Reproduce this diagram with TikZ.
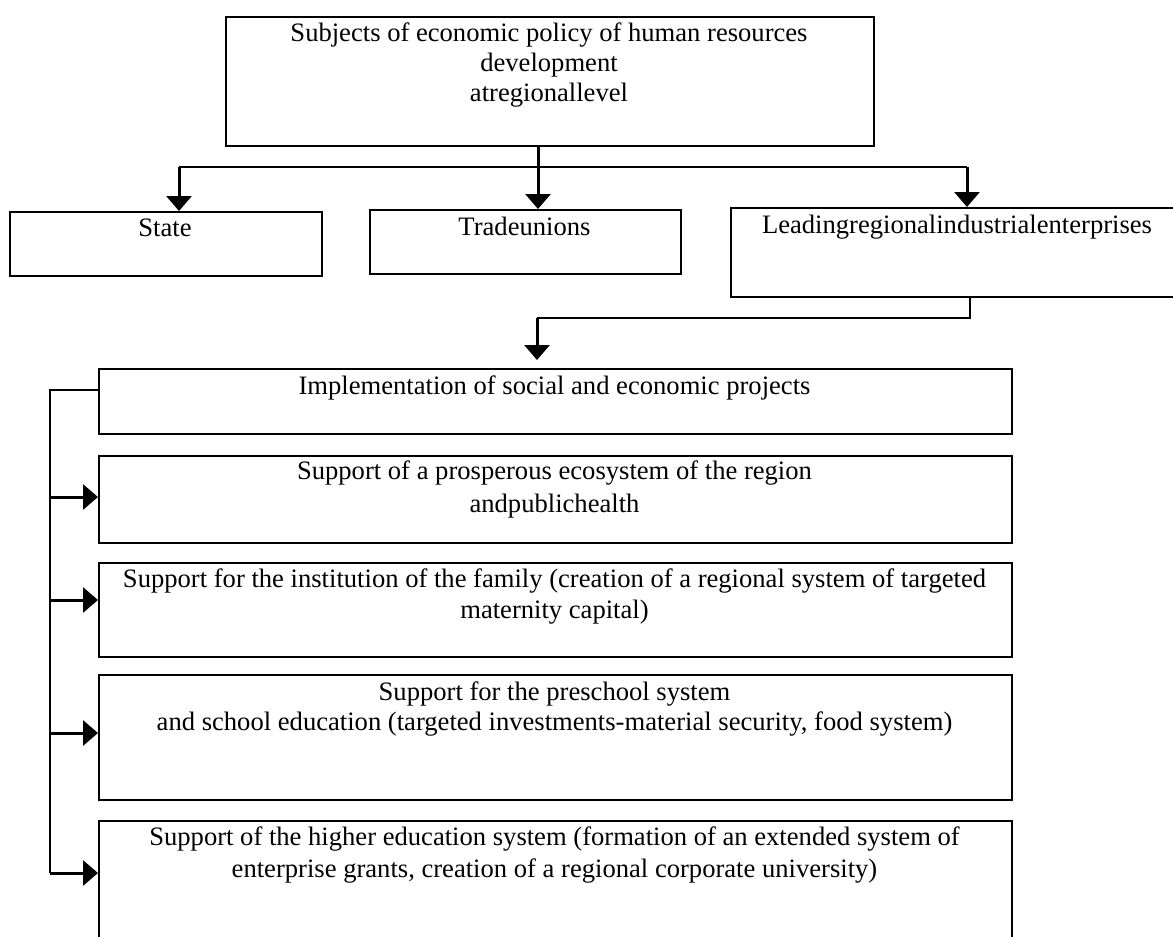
\documentclass[tikz,border=0pt]{standalone}
\usepackage{fontspec}
\setmainfont{Liberation Serif}
\usetikzlibrary{arrows.meta}
\begin{document}
\begin{tikzpicture}[x=0.5pt,y=-0.5pt,
  box/.style={draw, line width=0.8pt, inner sep=0pt, anchor=north west},
  txt/.style={anchor=north, inner sep=0pt, align=center, font=\fontsize{13.3pt}{15pt}\selectfont},
  stem/.style={line width=1.5pt},
  thinl/.style={line width=0.8pt},
  tip/.style={-{Triangle[length=7.5pt,width=12.5pt]}}
]
\clip (0,0) rectangle (1173,937);
% boxes
\node[box, minimum width=324pt, minimum height=64.5pt] (top) at (225,16) {};
\node[txt] (topT) at (549,20) {\strut Subjects of economic policy of human resources\\\strut development\\\strut atregionallevel};

\node[box, minimum width=156pt, minimum height=32pt] (state) at (9,211) {};
\node[txt] (stateT) at (165,215) {\strut State};

\node[box, minimum width=155.5pt, minimum height=32pt] (trade) at (369,209) {};
\node[txt] (tradeT) at (524.5,214) {\strut Tradeunions};

\node[box, minimum width=227pt, minimum height=44.5pt] (lead) at (730,207) {};
\node[txt] (leadT) at (957,212) {\strut Leadingregionalindustrialenterprises};

\node[box, minimum width=456.5pt, minimum height=32.5pt] (impl) at (98,368) {};
\node[txt] (implT) at (554.5,373) {\strut Implementation of social and economic projects};

\node[box, minimum width=456.5pt, minimum height=43.5pt] (s2) at (98,455) {};
\node[txt, font=\fontsize{13.3pt}{16.5pt}\selectfont] (s2T) at (554.5,456) {\strut Support of a prosperous ecosystem of the region\\\strut andpublichealth};

\node[box, minimum width=456.5pt, minimum height=47pt] (s3) at (98,562) {};
\node[txt, font=\fontsize{13.3pt}{15.5pt}\selectfont] (s3T) at (554.5,565) {\strut Support for the institution of the family (creation of a regional system of targeted\\\strut maternity capital)};

\node[box, minimum width=456.5pt, minimum height=62.5pt] (s4) at (98,674) {};
\node[txt] (s4T) at (554.5,679) {\strut Support for the preschool system\\\strut and school education (targeted investments-material security, food system)};

\node[box, minimum width=456.5pt, minimum height=75pt] (s5) at (98,820) {};
\node[txt, font=\fontsize{13.3pt}{16pt}\selectfont] (s5T) at (554.5,823) {\strut Support of the higher education system (formation of an extended system of\\\strut enterprise grants, creation of a regional corporate university)};

% top connectors
\coordinate (j1) at (538,167);
\coordinate (jS) at (179,167);
\coordinate (jL) at (967,167);
\draw[stem] (top.south -| j1) -- (j1);
\draw[thinl] (jS) -- (jL);
\draw[stem,tip] (jS) -- (jS |- state.north);
\draw[stem,tip] (j1) -- (j1 |- trade.north);
\draw[stem,tip] (jL) -- (jL |- lead.north);

% leading to implementation
\coordinate (k1) at (970,318);
\coordinate (k2) at (537,318);
\draw[thinl] (lead.south -| k1) -- (k1) -- (k2);
\draw[stem,tip,shorten >=4pt] (k2) -- (k2 |- impl.north);

% bus
\coordinate (b0) at (50,390);
\coordinate (b1) at (50,497);
\coordinate (b2) at (50,600);
\coordinate (b3) at (50,733);
\coordinate (b4) at (50,873);
\draw[thinl] (impl.west |- b0) -- (b0) -- (b4);
\draw[stem,tip] (b1) -- (b1 -| s2.west);
\draw[stem,tip] (b2) -- (b2 -| s3.west);
\draw[stem,tip] (b3) -- (b3 -| s4.west);
\draw[stem,tip] (b4) -- (b4 -| s5.west);
\end{tikzpicture}
\end{document}
